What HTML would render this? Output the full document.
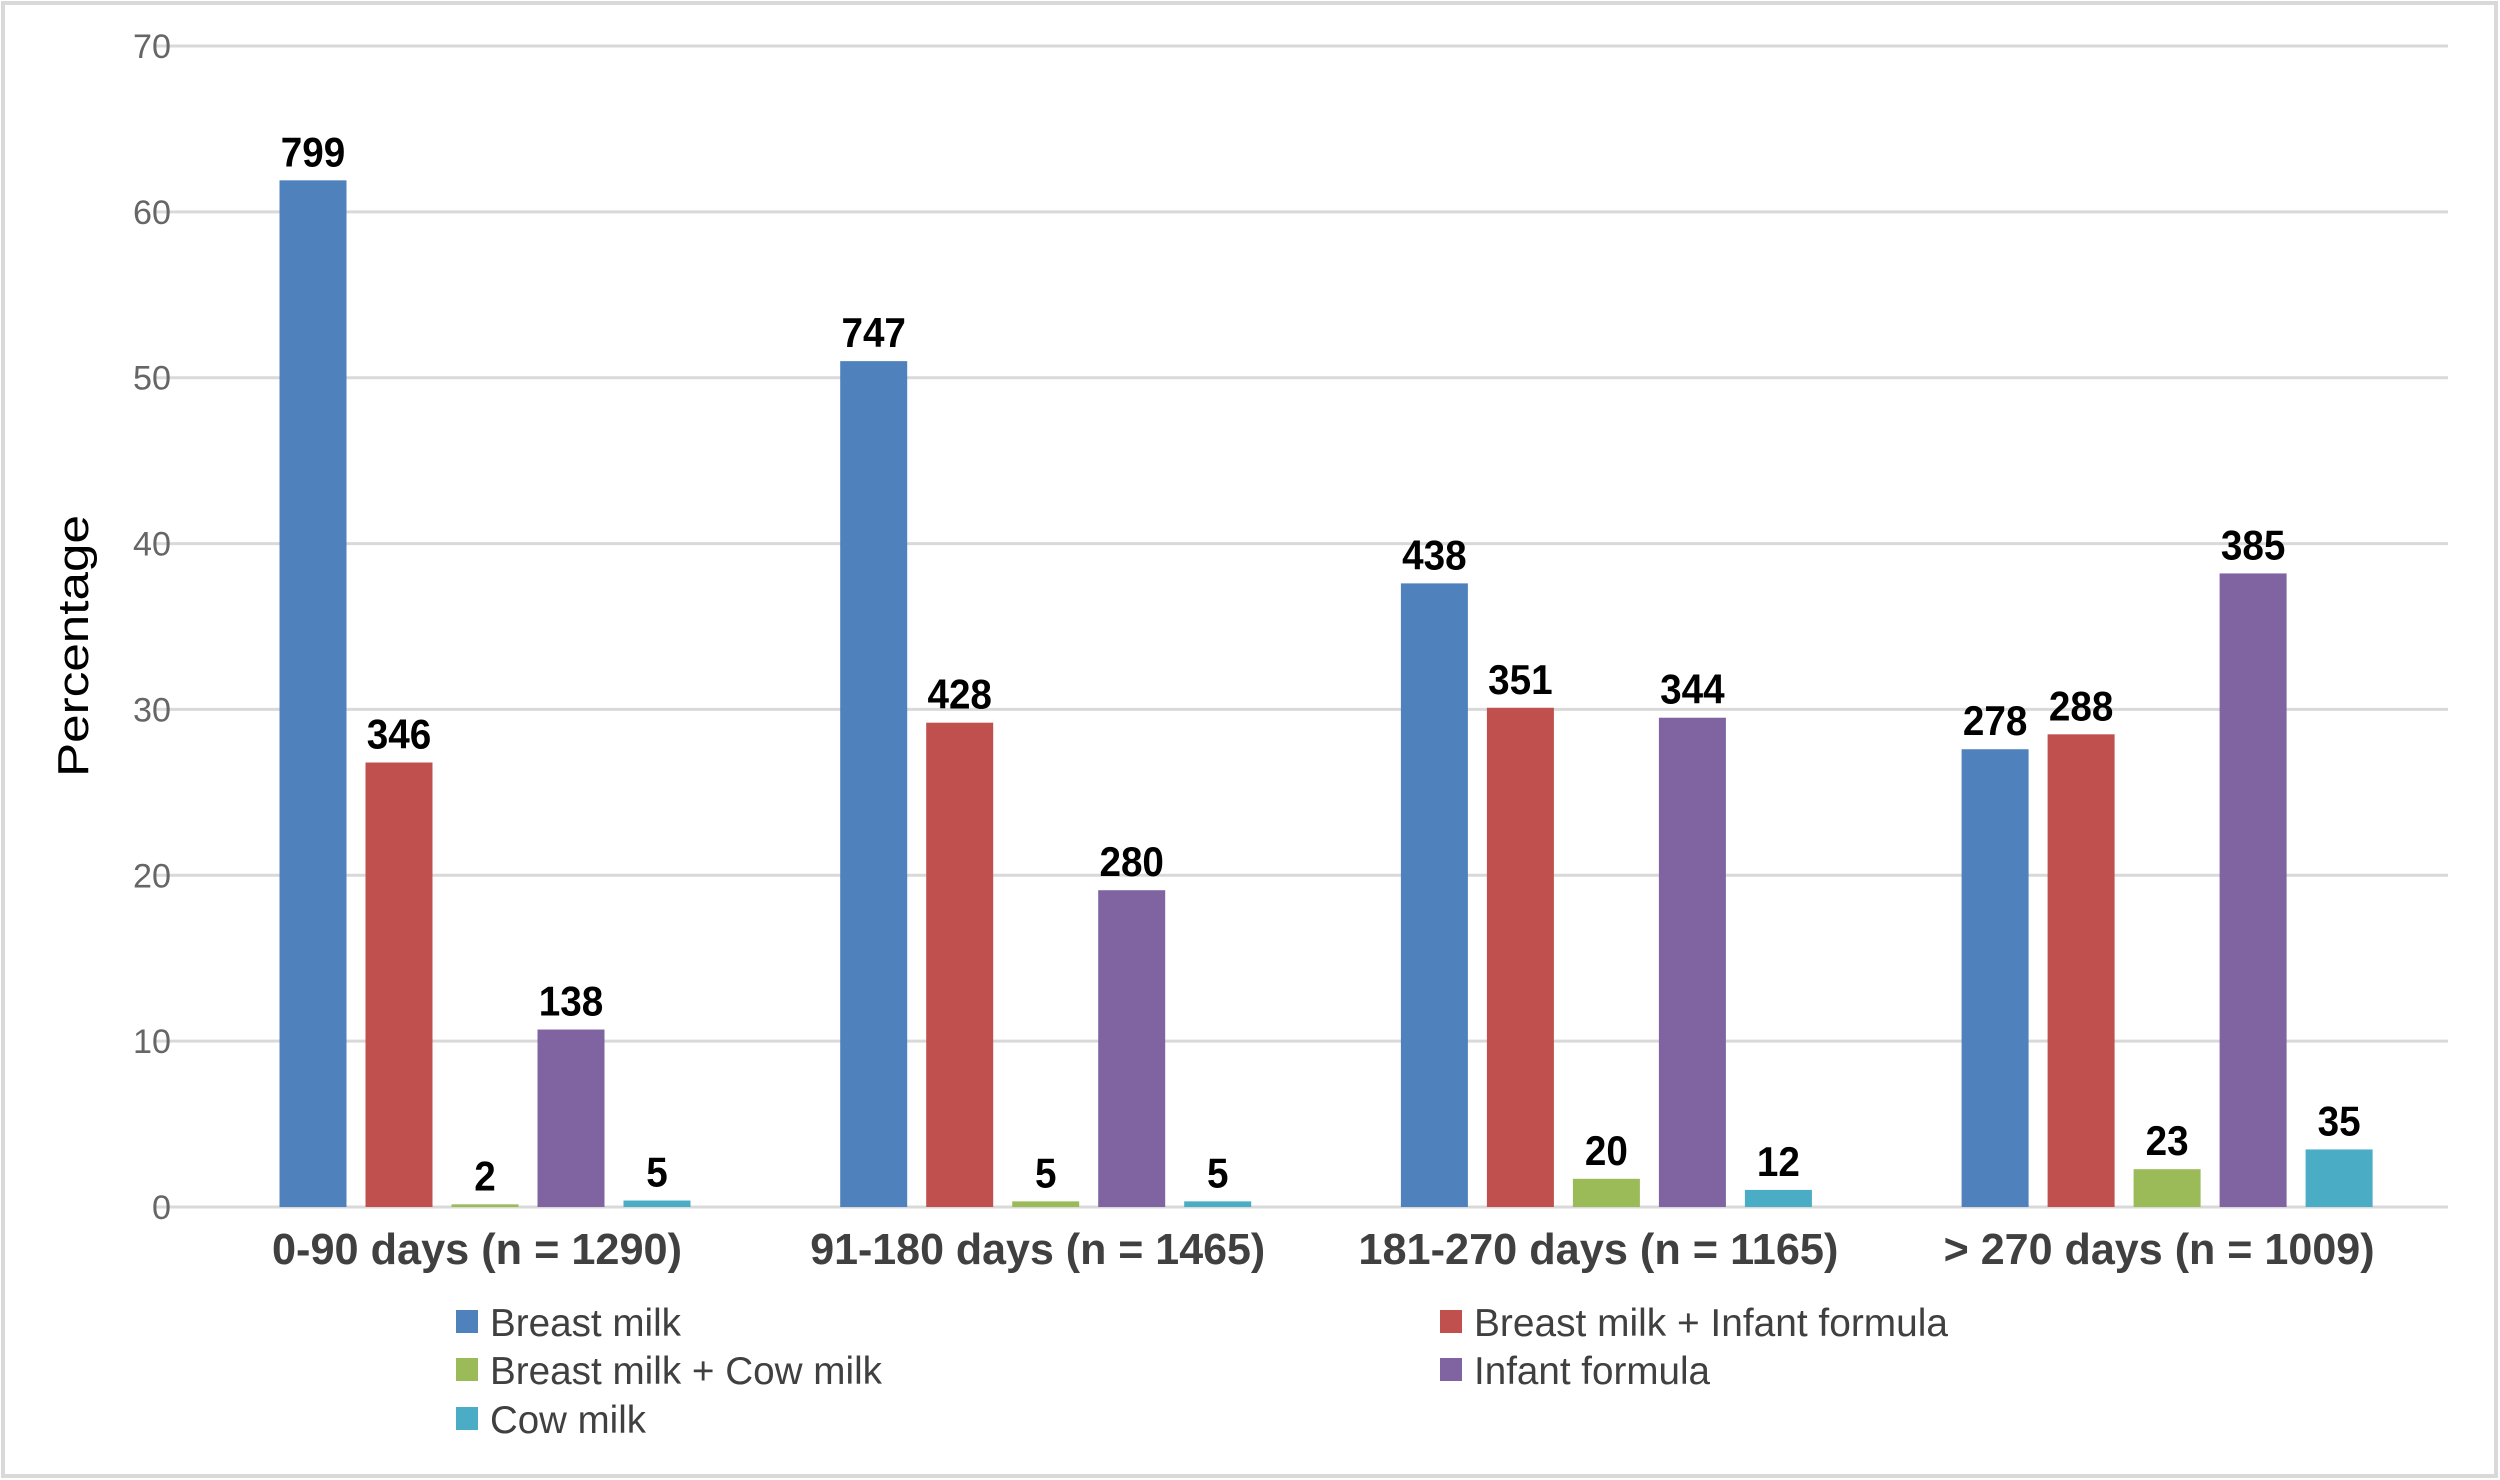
<!DOCTYPE html>
<html><head><meta charset="utf-8"><style>
html,body{margin:0;padding:0;background:#fff;}
svg{display:block;font-family:"Liberation Sans Narrow","Liberation Sans",sans-serif;}
</style></head><body>
<svg id="chart" width="2500" height="1480" viewBox="0 0 2500 1480" xmlns="http://www.w3.org/2000/svg">
<rect x="3" y="3" width="2493" height="1473" fill="#fff" stroke="#d9d9d9" stroke-width="4"/>
<g id="grid"></g><g id="bars"></g><g id="labels"></g><g id="legend"></g>
<text transform="translate(88,646) rotate(-90)" text-anchor="middle" font-size="44" fill="#000" textLength="262" lengthAdjust="spacingAndGlyphs">Percentage</text>
</svg>
<script>
const categories = ["0-90 days (n = 1290)", "91-180 days (n = 1465)", "181-270 days (n = 1165)", "> 270 days (n = 1009)"];
const seriesNames = ["Breast milk", "Breast milk + Infant formula", "Breast milk + Cow milk", "Infant formula", "Cow milk"];
const breastMilk = [61.9, 51.0, 37.6, 27.6];
const breastInfant = [26.8, 29.2, 30.1, 28.5];
const breastCow = [0.16, 0.34, 1.7, 2.28];
const infantFormula = [10.7, 19.1, 29.5, 38.2];
const cowMilk = [0.39, 0.34, 1.03, 3.47];
const countBreastMilk = ["799", "747", "438", "278"];
const countBreastInfant = ["346", "428", "351", "288"];
const countBreastCow = ["2", "5", "20", "23"];
const countInfantFormula = ["138", "280", "344", "385"];
const countCowMilk = ["5", "5", "12", "35"];
const yTicks = [0, 10, 20, 30, 40, 50, 60, 70];

const NS = "http://www.w3.org/2000/svg";
const colors = ["#4f81bd", "#c0504d", "#9bbb59", "#8064a2", "#4bacc6"];
const series = [breastMilk, breastInfant, breastCow, infantFormula, cowMilk];
const counts = [countBreastMilk, countBreastInfant, countBreastCow, countInfantFormula, countCowMilk];
const seriesKeys = ["breast-milk", "breast-infant", "breast-cow", "infant-formula", "cow-milk"];
const y0 = 1207, yTop = 46, plotL = 155, plotR = 2448;
function yScale(v){ return y0 - (v/70)*(y0-yTop); }
const slotStart = 485 - 560.7/2, slotW = 560.7;
function xCenter(i){ return slotStart + slotW*(i+0.5); }
const barW = 67, pitch = 86;
function mk(tag, attrs, parent){ const e=document.createElementNS(NS,tag); for(const k in attrs) e.setAttribute(k,attrs[k]); parent.appendChild(e); return e; }
const grid=document.getElementById('grid'), bars=document.getElementById('bars'), labels=document.getElementById('labels'), legend=document.getElementById('legend');

yTicks.forEach(t=>{
  const y=yScale(t);
  const l=mk('line',{x1:plotL,x2:plotR,y1:y,y2:y,stroke:'#d9d9d9','stroke-width':3},grid);
  
  
  const s=String(t);
  const tx=mk('text',{x:171,y:y+12,'text-anchor':'end','font-size':34,fill:'#666',textLength:s.length*19,lengthAdjust:'spacingAndGlyphs'},grid);
  tx.textContent=s;
  
  
});

categories.forEach((c,i)=>{
  const cx=xCenter(i);
  series.forEach((arr,s)=>{
    const bx=cx+(s-2)*pitch-barW/2;
    const by=yScale(arr[i]);
    const r=mk('rect',{x:bx,y:by,width:barW,height:Math.max(y0-by,1),fill:colors[s]},bars);
    
    
    const txt=counts[s][i];
    const t=mk('text',{x:bx+barW/2,y:by-14,'text-anchor':'middle','font-size':42,'font-weight':'bold',fill:'#000',textLength:txt.length*21.5,lengthAdjust:'spacingAndGlyphs'},labels);
    t.textContent=txt;
    
    
  });
  const widths=[410,455,480,431];
  const cl=mk('text',{x:cx-8, y:1264,'text-anchor':'middle','font-size':44,'font-weight':'bold',fill:'#404040',textLength:widths[i],lengthAdjust:'spacingAndGlyphs'},labels);
  cl.textContent=c;
  
  
});

const legItems=[
  {i:0,x:456,y:1336,w:191},{i:2,x:456,y:1384,w:392},{i:4,x:456,y:1433,w:156},
  {i:1,x:1440,y:1336,w:474},{i:3,x:1440,y:1384,w:236}
];
legItems.forEach(it=>{
  const g=mk('g',{},legend);
  
  
  mk('rect',{x:it.x,y:it.y-26,width:22,height:23,fill:colors[it.i]},g);
  const t=mk('text',{x:it.x+34,y:it.y,'font-size':39,fill:'#404040',textLength:it.w,lengthAdjust:'spacingAndGlyphs'},g);
  t.textContent=seriesNames[it.i];
});
</script>
</body></html>
